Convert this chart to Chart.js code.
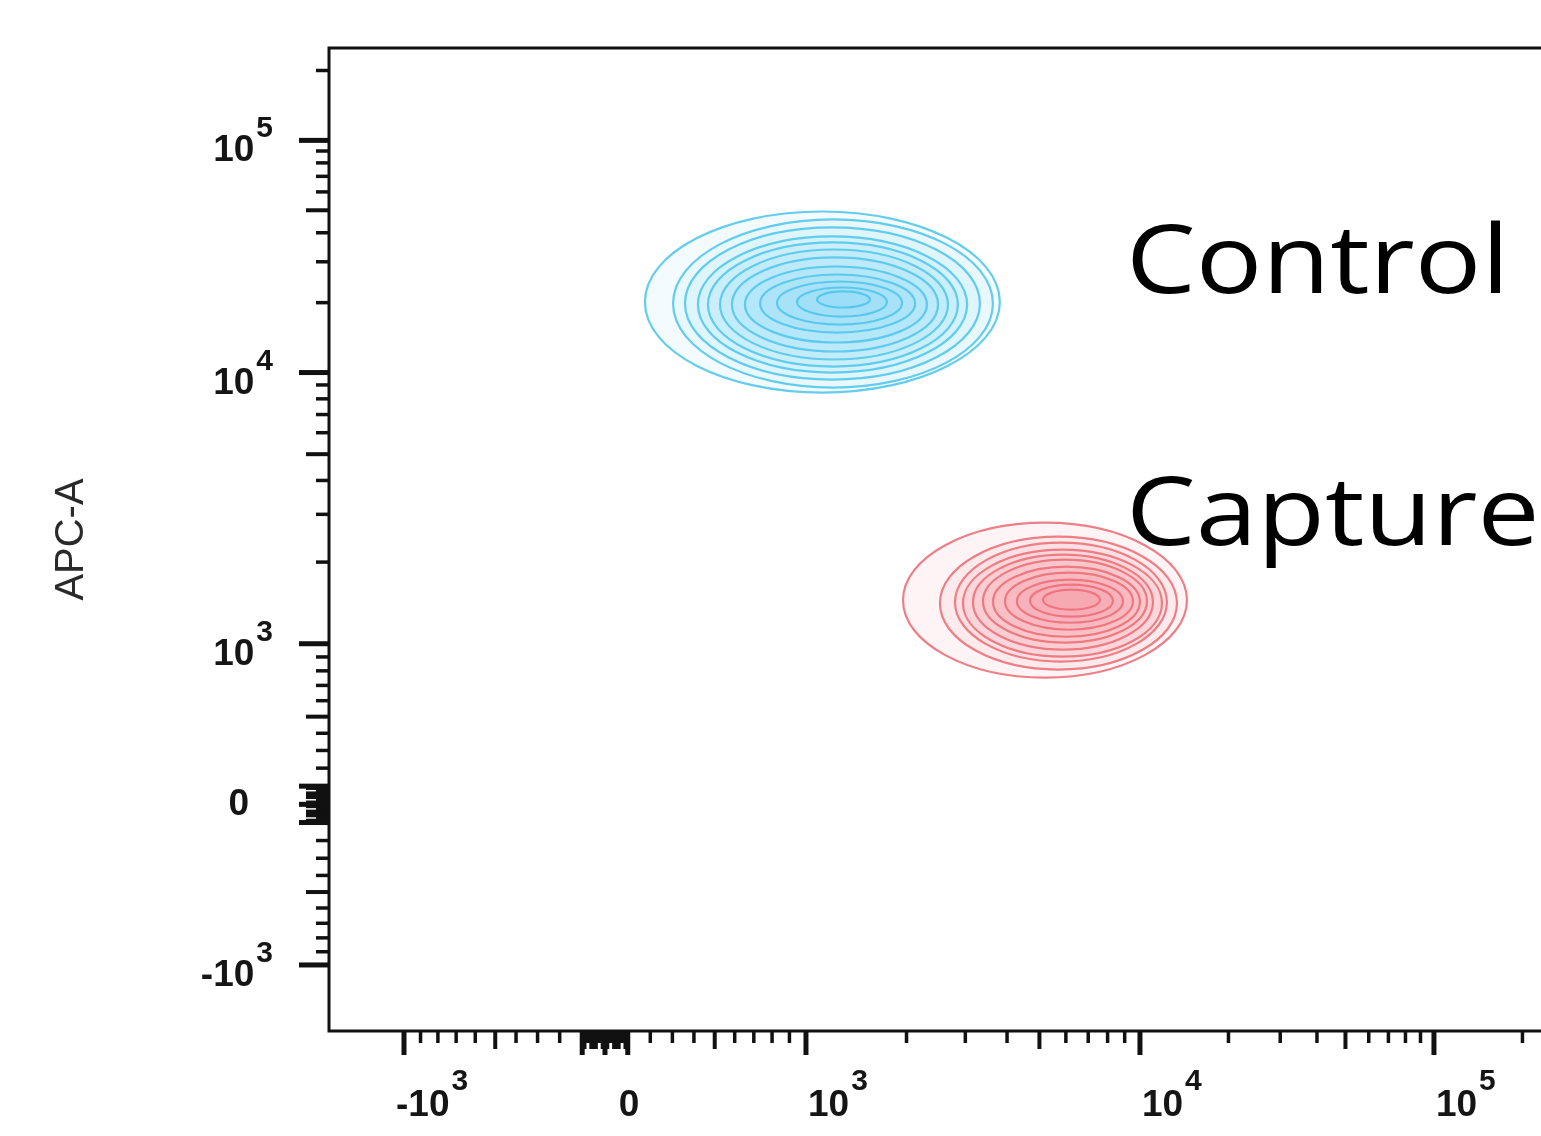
<!DOCTYPE html>
<html>
<head>
<meta charset="utf-8">
<script src="https://cdn.jsdelivr.net/npm/chart.js@4.4.1/dist/chart.umd.min.js"></script>
<style>
html,body{margin:0;padding:0;background:#fff;overflow:hidden;width:1541px;height:1136px}
canvas{display:block}
</style>
</head>
<body>
<canvas id="c" width="1560" height="1136"></canvas>
<script>
// ---------------- data ----------------
const xMajorTicks = [-1000, 0, 1000, 10000, 100000];
const xTickBase   = ['-10', '0', '10', '10', '10'];
const xTickExp    = ['3', '', '3', '4', '5'];
const yMajorTicks = [-1000, 0, 1000, 10000, 100000];
const yTickBase   = ['-10', '0', '10', '10', '10'];
const yTickExp    = ['3', '', '3', '4', '5'];
const yAxisTitle  = 'APC-A';

// Control population: contour rings (outer -> inner)
const controlLeft   = [176, 303, 358, 419, 467, 526, 586, 653, 734, 828, 945, 1079];
const controlRight  = [3806, 3628, 3318, 3037, 2850, 2662, 2486, 2302, 2122, 1939, 1748, 1555];
const controlTop    = [49400, 45650, 42170, 38570, 36340, 33890, 31310, 28630, 26450, 24670, 23250, 22350];
const controlBottom = [8437, 8804, 9423, 10000, 10610, 11380, 12320, 13470, 14870, 16100, 17430, 19060];
const controlXMid   = [1117, 1205, 1197, 1197, 1205, 1213, 1221, 1230, 1238, 1264, 1282, 1291];
const controlYMid   = [20130, 19830, 19830, 19630, 19630, 19630, 19630, 19630, 19830, 19930, 20130, 20630];

// Capture population: contour rings (outer -> inner)
const captureLeft   = [1952, 2518, 2793, 2952, 3162, 3388, 3630, 3943, 4282, 4684, 5124];
const captureRight  = [14450, 13360, 12350, 11880, 11070, 10563, 10000, 9529, 8896, 8302, 7592];
const captureTop    = [2796, 2482, 2359, 2223, 2130, 2042, 1924, 1828, 1723, 1651, 1582];
const captureBottom = [753, 809, 866, 902, 955, 1009, 1061, 1126, 1195, 1258, 1335];
const captureXMid   = [5195, 5702, 5801, 5861, 5883, 5963, 6026, 6130, 6172, 6236, 6236];
const captureYMid   = [1447, 1411, 1423, 1411, 1423, 1435, 1429, 1435, 1435, 1441, 1453];

// population labels (anchored in data units)
const labelText = ['Control', 'Capture'];
const labelX    = [9080, 9080];
const labelY    = [22120, 2320];

// ---------------- biexponential-style scale ----------------
function makeBiex(linW, decW, c, min, max) {
  const a1 = Math.asinh(1000 / c);
  const fwd = v => {
    const s = v < 0 ? -1 : 1, a = Math.abs(v);
    if (a <= 1000) return s * linW * Math.asinh(a / c) / a1;
    let L = Math.log10(a / 1000), u = linW, k = 0;
    while (L > 0) { const st = Math.min(L, 1); u += decW[Math.min(k, decW.length - 1)] * st; L -= 1; k++; }
    return s * u;
  };
  const inv = u => {
    let lo = min, hi = max;
    for (let i = 0; i < 80; i++) { const m = (lo + hi) / 2; if (fwd(m) < u) lo = m; else hi = m; }
    return (lo + hi) / 2;
  };
  return {fwd, inv, min, max};
}
const AXES = {
  x: makeBiex(201, [334, 294], 1000, -1677, 262144),
  y: makeBiex(160.5, [271, 232], 1000, -1752, 250000)
};

class BiexScale extends Chart.Scale {
  determineDataLimits() { const t = AXES[this.id]; this.min = t.min; this.max = t.max; }
  buildTicks() { return (this.id === 'x' ? xMajorTicks : yMajorTicks).map(v => ({value: v})); }
  getLabelForValue(v) { return String(v); }
  configure() {
    super.configure();
    const t = AXES[this.id];
    this._u0 = t.fwd(this.min); this._u1 = t.fwd(this.max);
  }
  getPixelForValue(v) {
    const t = AXES[this.id];
    return this.getPixelForDecimal((t.fwd(v) - this._u0) / (this._u1 - this._u0));
  }
  getValueForPixel(p) {
    const t = AXES[this.id];
    return t.inv(this._u0 + this.getDecimalForPixel(p) * (this._u1 - this._u0));
  }
}
BiexScale.id = 'biex';
BiexScale.defaults = {};
Chart.register(BiexScale);

// ---------------- contour datasets ----------------
const hiddenSeg = ctx => ctx.p0DataIndex === 0 || ctx.p0DataIndex === 5;
function ringDatasets(name, L, R, T, B, XM, YM, line, fill) {
  return L.map((_, i) => {
    const l = {x: L[i], y: YM[i]}, t = {x: XM[i], y: T[i]}, r = {x: R[i], y: YM[i]}, b = {x: XM[i], y: B[i]};
    return {
      label: name,
      data: [b, l, t, r, b, l, t],
      borderColor: line,
      backgroundColor: fill,
      borderWidth: 2.2,
      pointRadius: 0,
      tension: 0.55,
      fill: 'shape',
      segment: {
        borderColor: ctx => hiddenSeg(ctx) ? 'rgba(0,0,0,0)' : line,
        backgroundColor: ctx => hiddenSeg(ctx) ? 'rgba(0,0,0,0)' : fill
      }
    };
  });
}
const datasets = [
  ...ringDatasets('Control', controlLeft, controlRight, controlTop, controlBottom, controlXMid, controlYMid,
                  'rgba(82,200,234,0.9)', 'rgba(90,205,238,0.07)'),
  ...ringDatasets('Capture', captureLeft, captureRight, captureTop, captureBottom, captureXMid, captureYMid,
                  'rgba(234,106,114,0.85)', 'rgba(240,110,115,0.075)')
];

// ---------------- axes decoration plugin ----------------
function tickMarks() {
  const out = [];
  [-1000, 0, 1000, 10000, 100000].forEach(v => out.push({v, kind: 'major'}));
  for (let k = 1; k <= 9; k++) {
    const kind = (k === 2 || k === 3 || k === 7 || k === 8) ? 'minor' : 'mid';
    out.push({v: k * 10, kind}); out.push({v: -k * 10, kind});
  }
  out.push({v: 100, kind: 'major'}); out.push({v: -100, kind: 'major'});
  for (let k = 2; k <= 9; k++) {
    const kind = k === 5 ? 'mid' : 'minor';
    out.push({v: k * 100, kind}); out.push({v: -k * 100, kind});
    out.push({v: k * 1000, kind}); out.push({v: k * 10000, kind});
  }
  out.push({v: 200000, kind: 'minor'});
  return out;
}

const flowAxes = {
  id: 'flowAxes',
  afterDraw(chart) {
    const ctx = chart.ctx, a = chart.chartArea, xs = chart.scales.x, ys = chart.scales.y;
    ctx.save();
    ctx.strokeStyle = '#111';
    ctx.lineWidth = 3;
    ctx.strokeRect(a.left, a.top, a.right - a.left, a.bottom - a.top);

    const LEN = {x: {major: 24, mid: 18, minor: 12}, y: {major: 30, mid: 23, minor: 13}};
    const WID = {major: 5, mid: 4, minor: 3.5};
    for (const {v, kind} of tickMarks()) {
      ctx.lineWidth = WID[kind];
      const px = xs.getPixelForValue(v);
      if (px >= a.left - 1 && px <= a.right) {
        ctx.beginPath(); ctx.moveTo(px, a.bottom); ctx.lineTo(px, a.bottom + LEN.x[kind]); ctx.stroke();
      }
      const py = ys.getPixelForValue(v);
      if (py >= a.top && py <= a.bottom + 1) {
        ctx.beginPath(); ctx.moveTo(a.left, py); ctx.lineTo(a.left - LEN.y[kind], py); ctx.stroke();
      }
    }

    // tick labels with superscript exponents
    const baseFont = 'bold 37px "Liberation Sans"', expFont = 'bold 30px "Liberation Sans"';
    ctx.fillStyle = '#151515';
    ctx.textBaseline = 'alphabetic';
    ctx.textAlign = 'left';
    xMajorTicks.forEach((v, i) => {
      const px = xs.getPixelForValue(v);
      ctx.font = baseFont;
      const bw = ctx.measureText(xTickBase[i]).width;
      if (!xTickExp[i]) { ctx.fillText(xTickBase[i], px + 24 - bw / 2, a.bottom + 85); return; }
      const x0 = v < 0 ? px - 8 : px + 2;
      ctx.fillText(xTickBase[i], x0, a.bottom + 85);
      ctx.font = expFont;
      ctx.fillText(xTickExp[i], x0 + bw + 2, a.bottom + 59);
    });
    yMajorTicks.forEach((v, i) => {
      const py = ys.getPixelForValue(v);
      ctx.font = baseFont;
      const bw = ctx.measureText(yTickBase[i]).width;
      if (!yTickExp[i]) { ctx.fillText(yTickBase[i], a.left - 80 - bw, py + 11); return; }
      ctx.font = expFont;
      const ew = ctx.measureText(yTickExp[i]).width;
      const right = a.left - 56;
      ctx.fillText(yTickExp[i], right - ew, py - 3);
      ctx.font = baseFont;
      ctx.fillText(yTickBase[i], right - ew - 2 - bw, py + 21);
    });

    // population labels
    ctx.fillStyle = '#000';
    ctx.font = '95px "Open Sans"';
    labelText.forEach((t, i) => {
      const px = xs.getPixelForValue(labelX[i]), py = ys.getPixelForValue(labelY[i]);
      ctx.save(); ctx.translate(px, py); ctx.scale(1.165, 1); ctx.fillText(t, 0, 0); ctx.restore();
    });
    ctx.restore();
  }
};

new Chart(document.getElementById('c'), {
  type: 'line',
  data: {datasets},
  plugins: [flowAxes],
  options: {
    responsive: false,
    animation: false,
    devicePixelRatio: 1,
    events: [],
    layout: {padding: {left: 0, top: 48, right: 3, bottom: 105}},
    plugins: {legend: {display: false}, tooltip: {enabled: false}},
    scales: {
      x: {
        type: 'biex', position: 'bottom',
        grid: {display: false, drawTicks: false},
        border: {display: false},
        ticks: {display: false}
      },
      y: {
        type: 'biex', position: 'left',
        grid: {display: false, drawTicks: false},
        border: {display: false},
        ticks: {display: false},
        title: {
          display: true, text: yAxisTitle, color: '#2a2a2a',
          font: {family: '"Liberation Sans"', size: 40, weight: 'normal', lineHeight: 1.2},
          padding: {top: 48, bottom: 233}
        }
      }
    }
  }
});
</script>
</body>
</html>
